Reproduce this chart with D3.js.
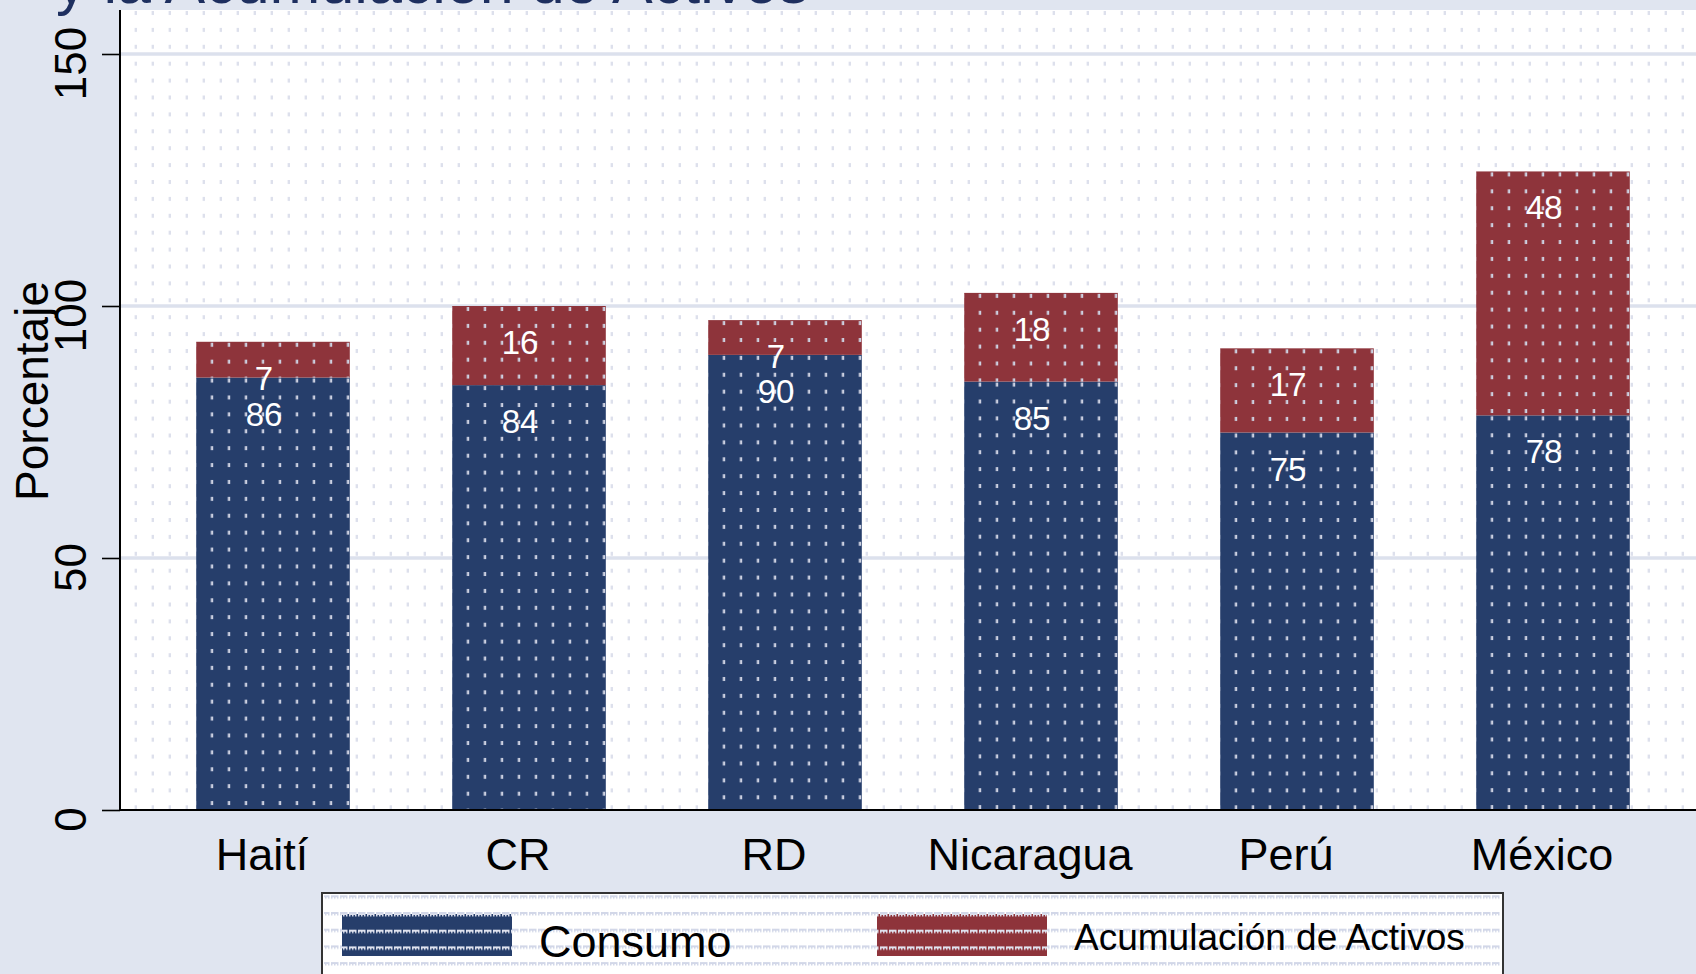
<!DOCTYPE html>
<html lang="es">
<head>
  <meta charset="utf-8">
  <title>Consumo y Acumulación de Activos</title>
  <script src="https://d3js.org/d3.v7.min.js"></script>
  <style>
    body { margin: 0; background: #e0e5f0; }
    svg text { font-family: "Liberation Sans", Arial, sans-serif; }
  </style>
</head>
<body>
  <div id="chart"></div>
  <script>
    "use strict"

    // datos
    const paises = ["Haití", "CR", "RD", "Nicaragua", "Perú", "México"];
    const consumo = [85.8, 84.3, 90.3, 85.0, 74.9, 78.3];
    const activos = [7.1, 15.7, 6.9, 17.6, 16.7, 48.4];
    const ticksY = [0, 50, 100, 150];
    const series = ["Consumo", "Acumulación de Activos"];

    const W = 1696, H = 974;
    const mIzq = 120, mSup = 10, mInf = 810;
    const navy = "#263e6b", maroon = "#8e343b";

    const svg = d3.select("#chart").append("svg")
      .attr("width", W).attr("height", H);
    const defs = svg.append("defs");

    // fondo
    svg.append("rect").attr("width", W).attr("height", H).attr("fill", "#e0e5f0");

    const x = d3.scaleBand()
      .domain(paises)
      .range([145, 1681])
      .paddingInner(0.4)
      .paddingOuter(0.2);

    const y = d3.scaleLinear()
      .domain([0, 150])
      .range([mInf, 54]);

    // patrón de puntos, anclado en la esquina de cada rectángulo
    let nPat = 0;
    function puntos(x0, y0, color) {
      const id = "pt" + (nPat++);
      const p = defs.append("pattern")
        .attr("id", id)
        .attr("patternUnits", "userSpaceOnUse")
        .attr("x", x0).attr("y", y0)
        .attr("width", 17).attr("height", 16.9);
      p.append("rect").attr("x", 14.6).attr("y", 1).attr("width", 2.6).attr("height", 4)
        .attr("fill", color);
      return "url(#" + id + ")";
    }

    // área del gráfico
    svg.append("rect")
      .attr("x", mIzq).attr("y", mSup)
      .attr("width", W - mIzq).attr("height", mInf - mSup)
      .attr("fill", "white");
    svg.append("rect")
      .attr("x", mIzq).attr("y", mSup)
      .attr("width", W - mIzq).attr("height", mInf - mSup)
      .attr("fill", puntos(mIzq, mSup, "#dde0ec"));

    // líneas de cuadrícula
    svg.append("g").selectAll("line")
      .data(ticksY.filter(d => d > 0))
      .enter().append("line")
        .attr("x1", mIzq).attr("x2", W)
        .attr("y1", d => y(d)).attr("y2", d => y(d))
        .attr("stroke", "#dce1ed")
        .attr("stroke-width", 3.5);

    // barras apiladas
    const filas = paises.map((p, i) => ({
      pais: p, c: consumo[i], a: activos[i]
    }));

    const segs = [];
    filas.forEach(d => {
      segs.push({ pais: d.pais, y0: 0, y1: d.c, v: d.c, color: navy });
      segs.push({ pais: d.pais, y0: d.c, y1: d.c + d.a, v: d.a, color: maroon });
    });

    const gBar = svg.append("g");
    segs.forEach(s => {
      const bx = x(s.pais), by = y(s.y1), bw = x.bandwidth(), bh = y(s.y0) - y(s.y1);
      gBar.append("rect")
        .attr("x", bx).attr("y", by).attr("width", bw).attr("height", bh)
        .attr("fill", s.color);
      gBar.append("rect")
        .attr("x", bx).attr("y", by).attr("width", bw).attr("height", bh)
        .attr("fill", puntos(bx, by, "#cdd1e1"));
    });

    // etiquetas de valores
    svg.append("g").selectAll("text")
      .data(segs)
      .enter().append("text")
        .attr("x", d => x(d.pais) + x.bandwidth() / 2 - 9)
        .attr("y", d => y(d.y1) + 48)
        .attr("text-anchor", "middle")
        .attr("font-size", 33)
        .attr("fill", "white")
        .text(d => Math.round(d.v));

    // eje y
    const ejeY = svg.append("g")
      .attr("transform", "translate(" + mIzq + ",0)")
      .call(d3.axisLeft(y).tickValues(ticksY).tickSize(18).tickSizeOuter(0));
    ejeY.select(".domain").remove();
    ejeY.selectAll(".tick line").attr("stroke", "black").attr("stroke-width", 1.6);
    ejeY.selectAll(".tick text")
      .attr("x", null).attr("dy", null)
      .attr("transform", "translate(-34,9) rotate(-90)")
      .attr("text-anchor", "middle")
      .attr("font-size", 44)
      .attr("font-family", null)
      .attr("fill", "black");

    // eje x
    const ejeX = svg.append("g")
      .attr("transform", "translate(0," + mInf + ")")
      .call(d3.axisBottom(x).tickSize(0));
    ejeX.select(".domain").remove();
    ejeX.selectAll(".tick text")
      .attr("x", -11).attr("y", 60).attr("dy", null)
      .attr("font-size", 45)
      .attr("font-family", null)
      .attr("fill", "black");

    svg.append("line")
      .attr("x1", mIzq).attr("x2", mIzq).attr("y1", mSup).attr("y2", mInf + 1)
      .attr("stroke", "black").attr("stroke-width", 2);
    svg.append("line")
      .attr("x1", mIzq - 1).attr("x2", W).attr("y1", mInf).attr("y2", mInf)
      .attr("stroke", "black").attr("stroke-width", 2);

    // título del eje
    svg.append("text")
      .attr("transform", "translate(48,391) rotate(-90)")
      .attr("text-anchor", "middle")
      .attr("font-size", 46)
      .attr("fill", "black")
      .text("Porcentaje");

    // título (cortado arriba, como en el original)
    svg.append("text")
      .attr("x", 56).attr("y", 3)
      .attr("font-size", 61)
      .attr("fill", "#1e2f5f")
      .text("y la Acumulación de Activos");

    // leyenda
    function rayas(id, x0, y0, color) {
      const p = defs.append("pattern")
        .attr("id", id)
        .attr("patternUnits", "userSpaceOnUse")
        .attr("x", x0).attr("y", y0)
        .attr("width", 9).attr("height", 16.7);
      p.append("path")
        .attr("d", "M0,0 h7.5 v3.5 h-1.5 v-1.5 h-1.5 v1.5 h-1.5 v-1.5 h-1.5 v1.5 h-1.5 z")
        .attr("fill", color);
      return "url(#" + id + ")";
    }

    const leg = svg.append("g");
    const lx = 322, ly = 893, lw = 1181, lh = 110;
    leg.append("rect").attr("x", lx).attr("y", ly).attr("width", lw).attr("height", lh)
      .attr("fill", "white");
    leg.append("rect").attr("x", lx + 2).attr("y", ly + 2).attr("width", lw - 4).attr("height", lh)
      .attr("fill", rayas("lg", lx, 912, "#d2d7e8"));
    leg.append("rect").attr("x", lx).attr("y", ly).attr("width", lw).attr("height", lh)
      .attr("fill", "none").attr("stroke", "#333").attr("stroke-width", 2);

    const clavesX = [342, 877];
    const textosX = [539, 1074];
    const textosY = [957, 950];
    const textosSize = [45, 37];
    const colores = [navy, maroon];
    const lgFill = rayas("lgk", lx, 913, "#dfe2ee");

    series.forEach((s, i) => {
      leg.append("rect")
        .attr("x", clavesX[i]).attr("y", 914).attr("width", 170).attr("height", 42)
        .attr("fill", colores[i]);
      leg.append("rect")
        .attr("x", clavesX[i]).attr("y", 914).attr("width", 170).attr("height", 42)
        .attr("fill", lgFill);
      leg.append("text")
        .attr("x", textosX[i]).attr("y", textosY[i])
        .attr("font-size", textosSize[i])
        .attr("fill", "black")
        .text(s);
    });
  </script>
</body>
</html>
